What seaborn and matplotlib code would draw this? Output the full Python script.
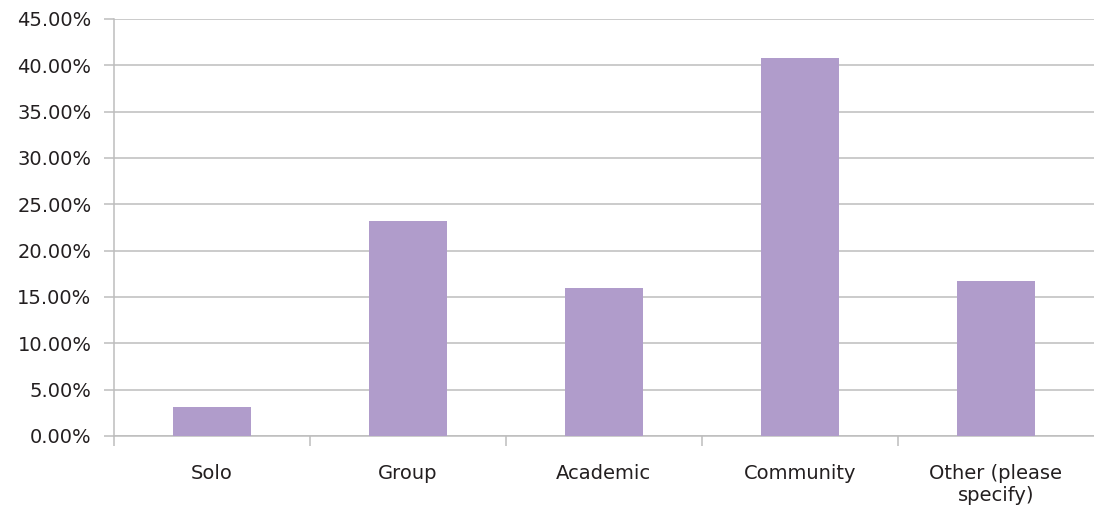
import matplotlib
matplotlib.use("Agg")
import matplotlib.pyplot as plt
import seaborn as sns
import pandas as pd
from matplotlib.ticker import FixedLocator, PercentFormatter

categories = ["Solo", "Group", "Academic", "Community", "Other (please\nspecify)"]
shares = [3.13, 23.2, 15.95, 40.75, 16.75]

sns.set_theme(style="white")
plt.rcParams["font.family"] = ["DejaVu Sans"]

df = pd.DataFrame({"category": categories, "share": shares})

fig = plt.figure(figsize=(10.94, 5.11), dpi=100)
ax = fig.add_axes([0.104, 0.147, 0.896, 0.816])

grid_color = "#bdbdbd"
text_color = "#231f20"

sns.barplot(data=df, x="category", y="share", color="#b09ccb", width=0.4,
            saturation=1, linewidth=0, ax=ax, zorder=3)

ax.set_xlim(-0.5, 4.5)
ax.set_ylim(0, 45)
ax.yaxis.set_major_locator(FixedLocator([i * 5 for i in range(10)]))
ax.yaxis.set_major_formatter(PercentFormatter(decimals=2))
ax.yaxis.grid(True, color=grid_color, linewidth=1.1, zorder=0)
ax.set_axisbelow(True)

# category boundaries carry the x tick marks; labels sit on the centres
ax.xaxis.set_minor_locator(FixedLocator([-0.5, 0.5, 1.5, 2.5, 3.5]))
ax.tick_params(axis="x", which="major", length=0, pad=20, labelsize=14,
               labelcolor=text_color)
ax.tick_params(axis="x", which="minor", length=7, width=1.1, color=grid_color,
               direction="out", bottom=True)
ax.tick_params(axis="y", which="major", length=7, width=1.1, color=grid_color,
               direction="out", left=True, labelsize=14, labelcolor=text_color,
               pad=9)

for side in ["top", "right"]:
    ax.spines[side].set_visible(False)
for side in ["left", "bottom"]:
    ax.spines[side].set_color(grid_color)
    ax.spines[side].set_linewidth(1.1)

ax.set_xlabel("")
ax.set_ylabel("")

fig.savefig("out.png", dpi=100, facecolor="white")
